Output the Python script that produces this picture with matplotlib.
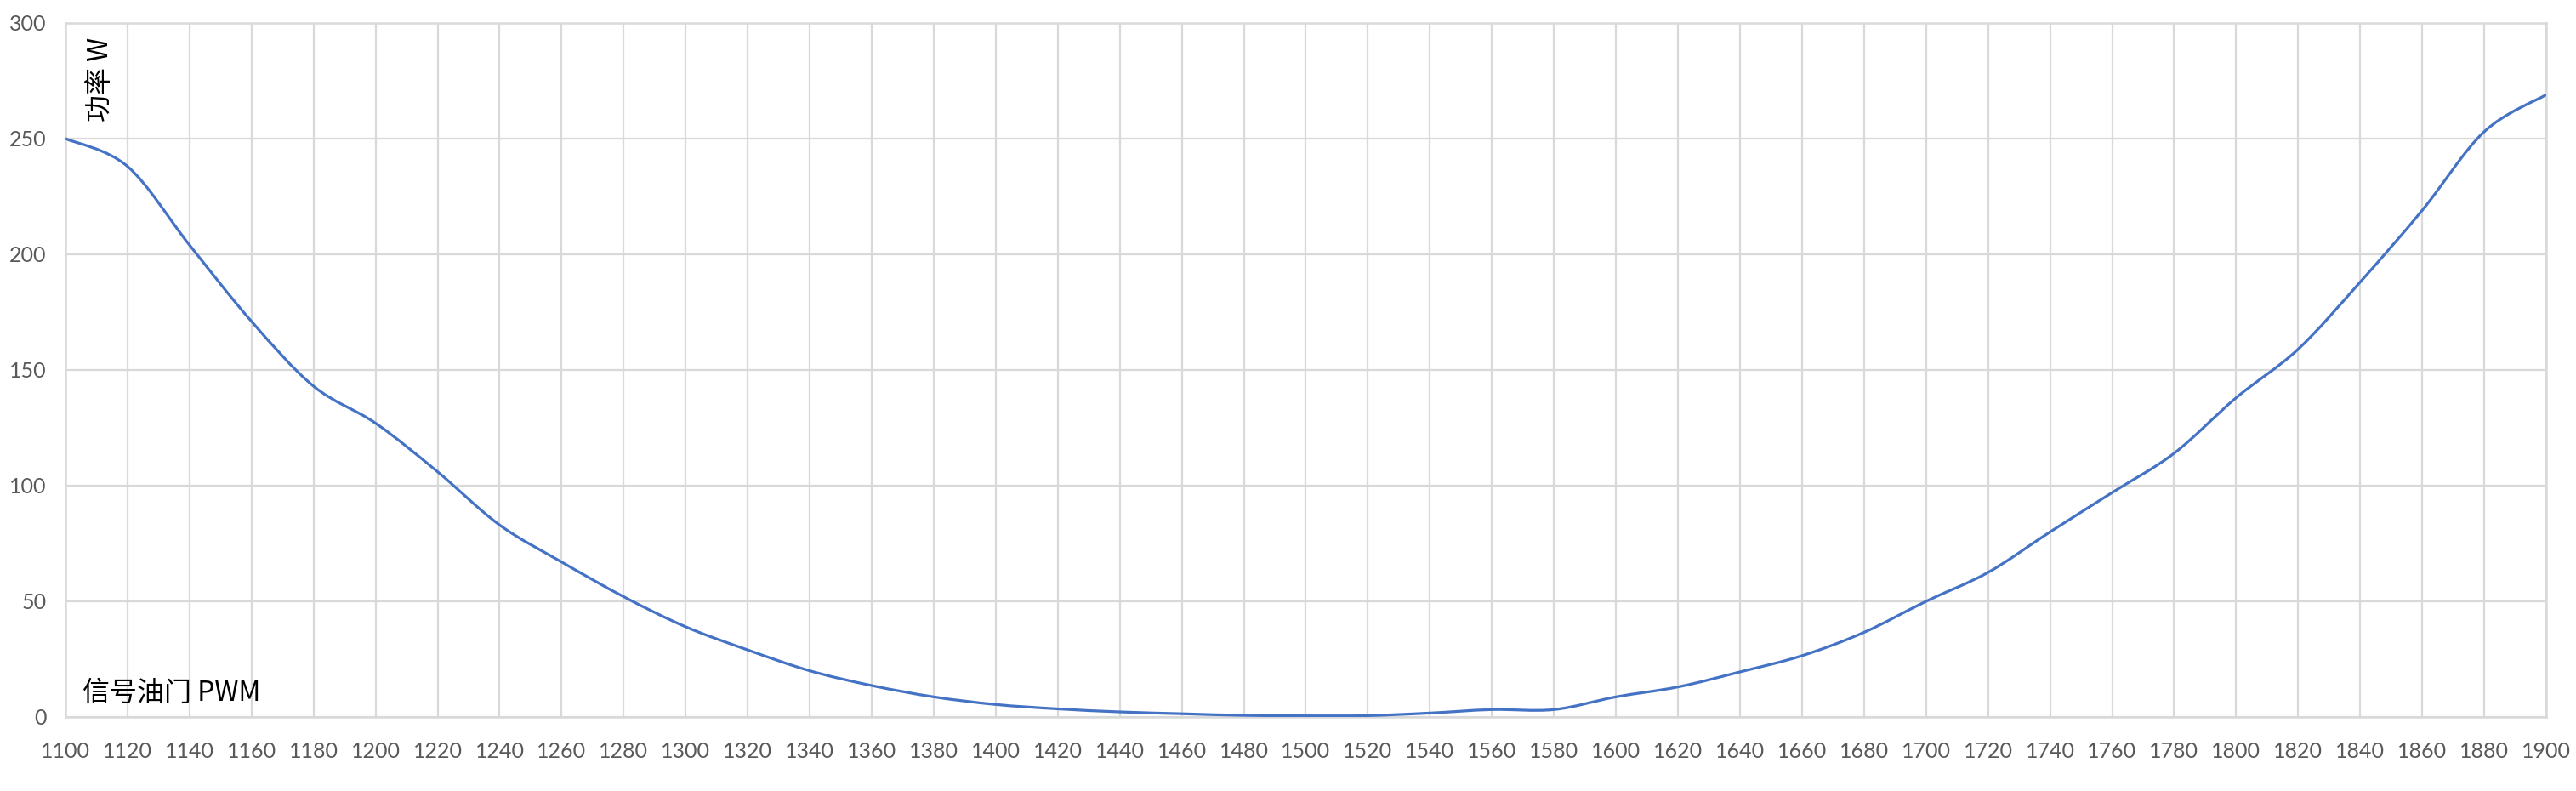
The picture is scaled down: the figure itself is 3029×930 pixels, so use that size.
import matplotlib
matplotlib.use("Agg")
import matplotlib.pyplot as plt
from matplotlib.path import Path
from matplotlib.patches import PathPatch

# throttle PWM signal vs. power
pwm = [1100, 1120, 1140, 1160, 1180, 1200, 1220, 1240, 1260, 1280,
       1300, 1320, 1340, 1360, 1380, 1400, 1420, 1440, 1460, 1480,
       1500, 1520, 1540, 1560, 1580, 1600, 1620, 1640, 1660, 1680,
       1700, 1720, 1740, 1760, 1780, 1800, 1820, 1840, 1860, 1880, 1900]
power = [250, 238, 204, 171, 143, 127, 106, 83, 67, 52,
         39, 29, 20, 13.6, 8.7, 5.4, 3.5, 2.2, 1.4, 0.7,
         0.5, 0.6, 1.7, 3.2, 3.2, 8.7, 13, 19.5, 26.5, 36.6,
         50, 62.5, 80, 97, 114, 138, 159, 188, 219, 253, 269]
y_ticks = [0, 50, 100, 150, 200, 250, 300]

y_title = "功率 W"
x_title = "信号油门 PWM"

tick_color = "#595959"
grid_color = "#d9d9d9"
line_color = "#4472c4"


def smooth_path(xs, ys):
    # excel-style smoothed line: cubic bezier segments through the points
    verts = [(xs[0], ys[0])]
    codes = [Path.MOVETO]
    n = len(xs)
    for i in range(n - 1):
        x0, y0 = (xs[i - 1], ys[i - 1]) if i > 0 else (xs[i], ys[i])
        x1, y1 = xs[i], ys[i]
        x2, y2 = xs[i + 1], ys[i + 1]
        x3, y3 = (xs[i + 2], ys[i + 2]) if i + 2 < n else (x2, y2)
        c1 = (x1 + (x2 - x0) / 6, y1 + (y2 - y0) / 6)
        c2 = (x2 - (x3 - x1) / 6, y2 - (y3 - y1) / 6)
        verts += [c1, c2, (x2, y2)]
        codes += [Path.CURVE4] * 3
    return Path(verts, codes)


fig = plt.figure(figsize=(30.29, 9.30), dpi=100)
ax = fig.add_axes([0.02542, 0.09355, 0.96302, 0.87742])

ax.add_patch(PathPatch(smooth_path(pwm, power), facecolor="none",
                       edgecolor=line_color, lw=2.3, zorder=3))

ax.set_xlim(pwm[0], pwm[-1])
ax.set_ylim(y_ticks[0], y_ticks[-1])
ax.set_xticks(pwm)
ax.set_xticklabels([str(v) for v in pwm])
ax.set_yticks(y_ticks)

ax.grid(True, color=grid_color, lw=1.6, zorder=0)
ax.set_axisbelow(True)
for side in ax.spines.values():
    side.set_color(grid_color)
    side.set_linewidth(1.8)

ax.tick_params(axis="both", length=0, labelcolor=tick_color, labelsize=18)
ax.tick_params(axis="x", pad=21)
ax.tick_params(axis="y", pad=16)
for lab in ax.get_xticklabels() + ax.get_yticklabels():
    lab.set_fontfamily(["Lato", "DejaVu Sans"])

ax.text(0.0141, 0.979, y_title, transform=ax.transAxes, rotation=90,
        ha="center", va="top", fontsize=23, color="black",
        family=["Noto Sans CJK SC", "DejaVu Sans"])
ax.text(0.0069, 0.034, x_title, transform=ax.transAxes,
        ha="left", va="center", fontsize=23, color="black",
        family=["Noto Sans CJK SC", "DejaVu Sans"])

fig.savefig("out.png", dpi=100, facecolor="white")
